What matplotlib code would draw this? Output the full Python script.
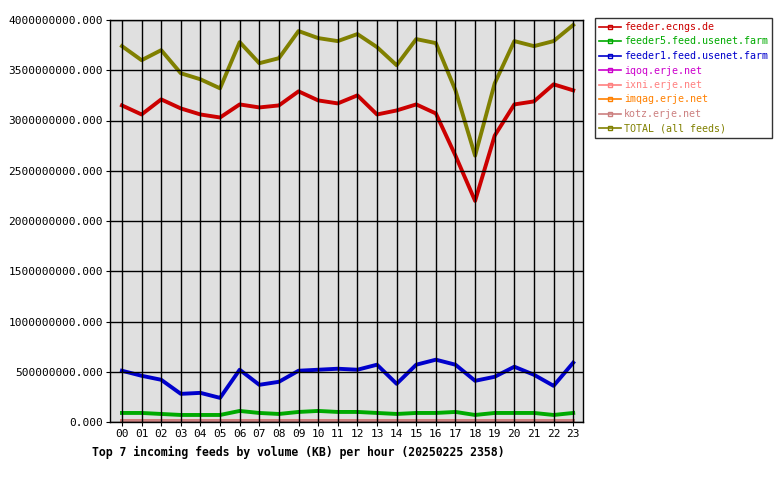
import matplotlib
matplotlib.use('Agg')
import matplotlib.pyplot as plt
from matplotlib.ticker import FuncFormatter, MultipleLocator

# ── Data (KB per hour) ───────────────────────────────────────────────────────
hours = ['%02d' % h for h in range(24)]
ecngs = [3.15, 3.06, 3.21, 3.12, 3.06, 3.03, 3.16, 3.13, 3.15, 3.29, 3.20, 3.17,
         3.25, 3.06, 3.10, 3.16, 3.07, 2.65, 2.20, 2.85, 3.16, 3.19, 3.36, 3.30]
feeder5 = [0.09, 0.09, 0.08, 0.07, 0.07, 0.07, 0.11, 0.09, 0.08, 0.10, 0.11, 0.10,
           0.10, 0.09, 0.08, 0.09, 0.09, 0.10, 0.07, 0.09, 0.09, 0.09, 0.07, 0.09]
feeder1 = [0.51, 0.46, 0.42, 0.28, 0.29, 0.24, 0.52, 0.37, 0.40, 0.51, 0.52, 0.53,
           0.52, 0.57, 0.38, 0.57, 0.62, 0.57, 0.41, 0.45, 0.55, 0.47, 0.36, 0.59]
iqoq  = [0.005] * 24
ixni  = [0.005] * 24
imqag = [0.005] * 24
kotz  = [0.01] * 24
total = [3.74, 3.60, 3.70, 3.47, 3.41, 3.32, 3.78, 3.57, 3.62, 3.89, 3.82, 3.79,
         3.86, 3.73, 3.55, 3.81, 3.77, 3.30, 2.65, 3.37, 3.79, 3.74, 3.79, 3.95]

series = [
    ('feeder.ecngs.de', ecngs, '#cc0000'),
    ('feeder5.feed.usenet.farm', feeder5, '#00aa00'),
    ('feeder1.feed.usenet.farm', feeder1, '#0000cc'),
    ('iqoq.erje.net', iqoq, '#cc00cc'),
    ('ixni.erje.net', ixni, '#ff8080'),
    ('imqag.erje.net', imqag, '#ff8000'),
    ('kotz.erje.net', kotz, '#cc8080'),
    ('TOTAL (all feeds)', total, '#808000'),
]

plt.rcParams['font.family'] = 'DejaVu Sans Mono'
fig = plt.figure(figsize=(7.8, 4.8), dpi=100)
ax = fig.add_axes([110/780, 58/480, 473/780, 402/480])
ax.set_facecolor('#e0e0e0')

x = list(range(24))
handles = []
for name, vals, col in series:
    ax.plot(x, [v * 1e9 for v in vals], color=col, lw=2.8, solid_joinstyle='round')
    h, = ax.plot([], [], color=col, lw=1.2, marker='s', ms=3, mfc='none', label=name)
    handles.append(h)

ax.set_xlim(-0.61, 23.5)
ax.set_ylim(0, 4e9)
ax.set_xticks(x)
ax.set_xticklabels(hours)
ax.yaxis.set_major_locator(MultipleLocator(5e8))
ax.yaxis.set_major_formatter(FuncFormatter(lambda v, p: '%d.000' % v))
ax.grid(True, color='black', lw=1)
ax.set_axisbelow(False)
ax.tick_params(labelsize=8, length=3, pad=2)
for s in ax.spines.values():
    s.set_linewidth(1)

leg = fig.legend(handles=handles, loc='upper left', bbox_to_anchor=(595/780, 1 - 18/480),
                 fontsize=7.2, frameon=True, fancybox=False, edgecolor='black',
                 handlelength=2.2, handletextpad=0.3, borderaxespad=0, labelspacing=0.45)
leg.get_frame().set_linewidth(1)
for t, (_, _, col) in zip(leg.get_texts(), series):
    t.set_color(col)

fig.text(92/780, 1 - 452/480, 'Top 7 incoming feeds by volume (KB) per hour (20250225 2358)',
         fontsize=8.3, fontweight='bold', va='center')

fig.savefig('out.png', dpi=100)
